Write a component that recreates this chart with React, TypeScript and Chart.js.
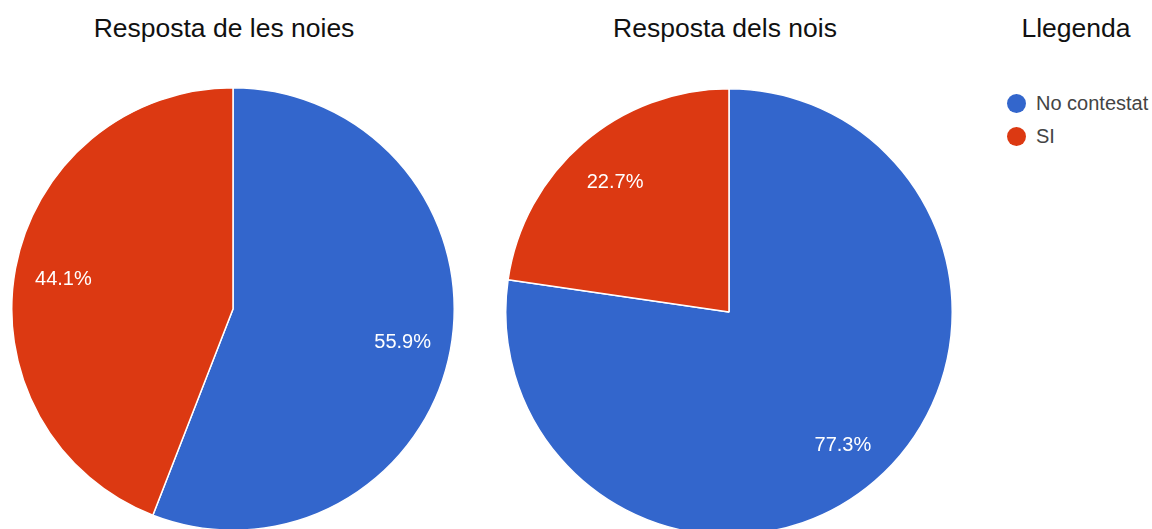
import React, { useEffect, useRef } from "react";
import { Chart, registerables } from "chart.js";

Chart.register(...registerables);

const categories = ["No contestat", "SI"];
const girlsValues = [55.9, 44.1];
const boysValues = [77.3, 22.7];
const titles = ["Resposta de les noies", "Resposta dels nois"];
const legendTitle = "Llegenda";
const colors = ["#3366cc", "#dc3912"];

const FONT = "'Liberation Sans', Arial, sans-serif";

const labelPlugin = {
  id: "pctLabels",
  afterDatasetsDraw(chart: any) {
    const { ctx } = chart;
    const meta = chart.getDatasetMeta(0);
    const data = chart.data.datasets[0].data as number[];
    const total = data.reduce((a, b) => a + b, 0);
    ctx.save();
    ctx.fillStyle = "#ffffff";
    ctx.font = `20px ${FONT}`;
    ctx.textAlign = "center";
    ctx.textBaseline = "middle";
    meta.data.forEach((arc: any, i: number) => {
      const { x, y, startAngle, endAngle, outerRadius } = arc.getProps(
        ["x", "y", "startAngle", "endAngle", "outerRadius"],
        true
      );
      const mid = (startAngle + endAngle) / 2;
      const r = outerRadius * 0.78;
      const pct = ((data[i] / total) * 100).toFixed(1) + "%";
      ctx.fillText(pct, x + Math.cos(mid) * r, y + Math.sin(mid) * r + 2);
    });
    ctx.restore();
  },
};

function Pie({ values, size }: { values: number[]; size: number }) {
  const ref = useRef<HTMLCanvasElement | null>(null);
  useEffect(() => {
    if (!ref.current) return;
    const chart = new Chart(ref.current, {
      type: "pie",
      data: {
        labels: categories,
        datasets: [
          {
            data: values,
            backgroundColor: colors,
            borderColor: "#ffffff",
            borderWidth: 1.5,
          },
        ],
      },
      options: {
        animation: false,
        responsive: false,
        maintainAspectRatio: false,
        layout: { padding: 0 },
        plugins: {
          legend: { display: false },
          tooltip: { enabled: false },
          title: { display: false },
        },
      },
      plugins: [labelPlugin],
    });
    return () => chart.destroy();
  }, [values, size]);
  return <canvas ref={ref} width={size} height={size} style={{ width: size, height: size, display: "block" }} />;
}

const titleStyle: React.CSSProperties = {
  position: "absolute",
  top: 12,
  fontFamily: FONT,
  fontSize: 26.5,
  color: "#111",
  whiteSpace: "nowrap",
  transform: "translateX(-50%)",
  lineHeight: "32px",
};

export default function App() {
  return (
    <div
      style={{
        position: "absolute",
        left: 0,
        top: 0,
        width: 1152,
        height: 529,
        overflow: "hidden",
        background: "#ffffff",
      }}
    >
      <div style={{ ...titleStyle, left: 224 }}>{titles[0]}</div>
      <div style={{ ...titleStyle, left: 725 }}>{titles[1]}</div>
      <div style={{ ...titleStyle, left: 1076 }}>{legendTitle}</div>

      <div style={{ position: "absolute", left: 11, top: 87 }}>
        <Pie values={girlsValues} size={444} />
      </div>
      <div style={{ position: "absolute", left: 505, top: 88 }}>
        <Pie values={boysValues} size={448} />
      </div>

      <div style={{ position: "absolute", left: 1007, top: 87, fontFamily: FONT, fontSize: 20, color: "#444" }}>
        {categories.map((c, i) => (
          <div key={c} style={{ display: "flex", alignItems: "center", height: 33 }}>
            <span
              style={{
                display: "inline-block",
                width: 19,
                height: 19,
                borderRadius: "50%",
                background: colors[i],
                marginRight: 10,
              }}
            />
            <span>{c}</span>
          </div>
        ))}
      </div>
    </div>
  );
}
